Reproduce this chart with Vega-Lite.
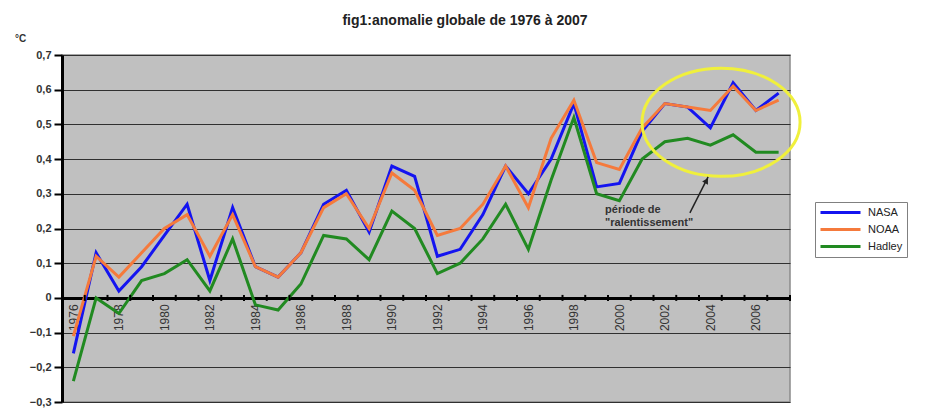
{
  "$schema": "https://vega.github.io/schema/vega-lite/v6.json",
  "width": 728,
  "height": 347,
  "autosize": "none",
  "padding": {"left": 62, "top": 55, "right": 143, "bottom": 10},
  "background": "white",
  "config": {
    "font": "Liberation Sans",
    "view": {"fill": "#c0c0c0", "stroke": "#8a8a8a", "strokeWidth": 1.5}
  },
  "title": {
    "text": "fig1:anomalie globale de 1976 à 2007",
    "font": "Liberation Sans",
    "fontSize": 14,
    "fontWeight": "bold",
    "color": "#222222",
    "anchor": "middle",
    "frame": "group",
    "dx": 39,
    "offset": 5
  },
  "datasets": {
    "series": [
      {"year": 1976, "NASA": -0.16, "NOAA": -0.11, "Hadley": -0.24},
      {"year": 1977, "NASA": 0.13, "NOAA": 0.12, "Hadley": 0.0},
      {"year": 1978, "NASA": 0.02, "NOAA": 0.06, "Hadley": -0.045},
      {"year": 1979, "NASA": 0.09, "NOAA": 0.13, "Hadley": 0.05},
      {"year": 1980, "NASA": 0.18, "NOAA": 0.2, "Hadley": 0.07},
      {"year": 1981, "NASA": 0.27, "NOAA": 0.24, "Hadley": 0.11},
      {"year": 1982, "NASA": 0.05, "NOAA": 0.12, "Hadley": 0.02},
      {"year": 1983, "NASA": 0.26, "NOAA": 0.24, "Hadley": 0.17},
      {"year": 1984, "NASA": 0.09, "NOAA": 0.09, "Hadley": -0.02},
      {"year": 1985, "NASA": 0.06, "NOAA": 0.06, "Hadley": -0.035},
      {"year": 1986, "NASA": 0.13, "NOAA": 0.13, "Hadley": 0.04},
      {"year": 1987, "NASA": 0.27, "NOAA": 0.26, "Hadley": 0.18},
      {"year": 1988, "NASA": 0.31, "NOAA": 0.3, "Hadley": 0.17},
      {"year": 1989, "NASA": 0.19, "NOAA": 0.2, "Hadley": 0.11},
      {"year": 1990, "NASA": 0.38, "NOAA": 0.36, "Hadley": 0.25},
      {"year": 1991, "NASA": 0.35, "NOAA": 0.31, "Hadley": 0.2},
      {"year": 1992, "NASA": 0.12, "NOAA": 0.18, "Hadley": 0.07},
      {"year": 1993, "NASA": 0.14, "NOAA": 0.2, "Hadley": 0.1},
      {"year": 1994, "NASA": 0.24, "NOAA": 0.27, "Hadley": 0.17},
      {"year": 1995, "NASA": 0.38, "NOAA": 0.38, "Hadley": 0.27},
      {"year": 1996, "NASA": 0.3, "NOAA": 0.26, "Hadley": 0.14},
      {"year": 1997, "NASA": 0.4, "NOAA": 0.46, "Hadley": 0.34},
      {"year": 1998, "NASA": 0.56, "NOAA": 0.57, "Hadley": 0.52},
      {"year": 1999, "NASA": 0.32, "NOAA": 0.39, "Hadley": 0.3},
      {"year": 2000, "NASA": 0.33, "NOAA": 0.37, "Hadley": 0.28},
      {"year": 2001, "NASA": 0.48, "NOAA": 0.49, "Hadley": 0.4},
      {"year": 2002, "NASA": 0.56, "NOAA": 0.56, "Hadley": 0.45},
      {"year": 2003, "NASA": 0.55, "NOAA": 0.55, "Hadley": 0.46},
      {"year": 2004, "NASA": 0.49, "NOAA": 0.54, "Hadley": 0.44},
      {"year": 2005, "NASA": 0.62, "NOAA": 0.61, "Hadley": 0.47},
      {"year": 2006, "NASA": 0.54, "NOAA": 0.54, "Hadley": 0.42},
      {"year": 2007, "NASA": 0.59, "NOAA": 0.57, "Hadley": 0.42}
    ],
    "ellipse": [{"year": 2004.47, "value": 0.506}],
    "arrow": [{"year": 2003.1, "value": 0.245, "year2": 2003.9, "value2": 0.349}],
    "arrowhead": [{"year": 2003.83, "value": 0.338}],
    "notes": [
      {"year": 1999.37, "value": 0.254, "text": "période de"},
      {"year": 1999.37, "value": 0.217, "text": "\"ralentissement\""}
    ]
  },
  "layer": [
    {
      "data": {"name": "series"},
      "mark": {"type": "line", "strokeWidth": 3, "strokeJoin": "miter"},
      "transform": [{"fold": ["NASA", "NOAA", "Hadley"], "as": ["source", "value"]}],
      "encoding": {
        "x": {
          "field": "year",
          "type": "quantitative",
          "title": null,
          "scale": {"domain": [1975.5, 2007.5], "nice": false, "zero": false},
          "axis": {
            "values": [1976, 1978, 1980, 1982, 1984, 1986, 1988, 1990, 1992, 1994, 1996, 1998, 2000, 2002, 2004, 2006],
            "tickCount": 40,
            "format": "d",
            "labelAngle": -90,
            "ticks": false,
            "grid": false,
            "offset": -104.1,
            "domainColor": "black",
            "domainWidth": 3,
            "labelFontSize": 12,
            "labelColor": "#333333",
            "labelPadding": 6
          }
        },
        "y": {
          "field": "value",
          "type": "quantitative",
          "title": "°C",
          "scale": {"domain": [-0.3, 0.7], "nice": false, "zero": false},
          "axis": {
            "values": [-0.3, -0.2, -0.1, 0, 0.1, 0.2, 0.3, 0.4, 0.5, 0.6, 0.7],
            "tickCount": 20,
            "labelExpr": "datum.value == 0 ? '0' : replace(format(datum.value, '.1f'), '.', ',')",
            "grid": true,
            "gridColor": "#303030",
            "gridWidth": 1.2,
            "domainColor": "black",
            "domainWidth": 3,
            "tickColor": "black",
            "tickSize": 8,
            "tickWidth": 2,
            "labelFontSize": 11,
            "labelFontWeight": "bold",
            "labelColor": "#333333",
            "labelPadding": 3,
            "titleAngle": 0,
            "titleX": -42,
            "titleY": -17,
            "titleFontSize": 10,
            "titleFontWeight": "bold",
            "titleColor": "#333333",
            "titleAlign": "center",
            "titleBaseline": "middle"
          }
        },
        "color": {
          "field": "source",
          "type": "nominal",
          "scale": {"domain": ["NASA", "NOAA", "Hadley"], "range": ["#1414f0", "#f57a3c", "#218a21"]},
          "legend": {
            "title": null,
            "orient": "none",
            "legendX": 753,
            "legendY": 147,
            "symbolType": "M -4 0 L 4 0",
            "symbolSize": 100,
            "symbolStrokeWidth": 3,
            "symbolOffset": 15,
            "labelOffset": 21,
            "labelFontSize": 11,
            "labelColor": "#222222",
            "strokeColor": "#808080",
            "fillColor": "white",
            "padding": 4,
            "rowPadding": 4
          }
        }
      }
    },
    {
      "data": {"name": "series"},
      "mark": {"type": "tick", "orient": "vertical", "size": 6, "thickness": 2, "color": "black", "xOffset": 11.375, "opacity": 1},
      "encoding": {
        "x": {"field": "year", "type": "quantitative", "title": null},
        "y": {"datum": 0, "type": "quantitative", "title": "°C"}
      }
    },
    {
      "data": {"name": "ellipse"},
      "mark": {"type": "point", "shape": "M -1 0 A 1 0.684 0 1 0 1 0 A 1 0.684 0 1 0 -1 0 Z", "size": 24964, "filled": false, "stroke": "#f0f03c", "strokeWidth": 3, "opacity": 1},
      "encoding": {
        "x": {"field": "year", "type": "quantitative", "title": null},
        "y": {"field": "value", "type": "quantitative", "title": "°C"}
      }
    },
    {
      "data": {"name": "arrow"},
      "mark": {"type": "rule", "color": "#222222", "strokeWidth": 1.5},
      "encoding": {
        "x": {"field": "year", "type": "quantitative", "title": null},
        "y": {"field": "value", "type": "quantitative", "title": "°C"},
        "x2": {"field": "year2"},
        "y2": {"field": "value2"}
      }
    },
    {
      "data": {"name": "arrowhead"},
      "mark": {"type": "point", "shape": "triangle-up", "angle": 30, "size": 45, "filled": true, "color": "#222222", "opacity": 1},
      "encoding": {
        "x": {"field": "year", "type": "quantitative", "title": null},
        "y": {"field": "value", "type": "quantitative", "title": "°C"}
      }
    },
    {
      "data": {"name": "notes"},
      "mark": {"type": "text", "align": "left", "baseline": "middle", "fontSize": 11, "fontWeight": "bold", "color": "#333333"},
      "encoding": {
        "x": {"field": "year", "type": "quantitative", "title": null},
        "y": {"field": "value", "type": "quantitative", "title": "°C"},
        "text": {"field": "text"}
      }
    }
  ]
}
